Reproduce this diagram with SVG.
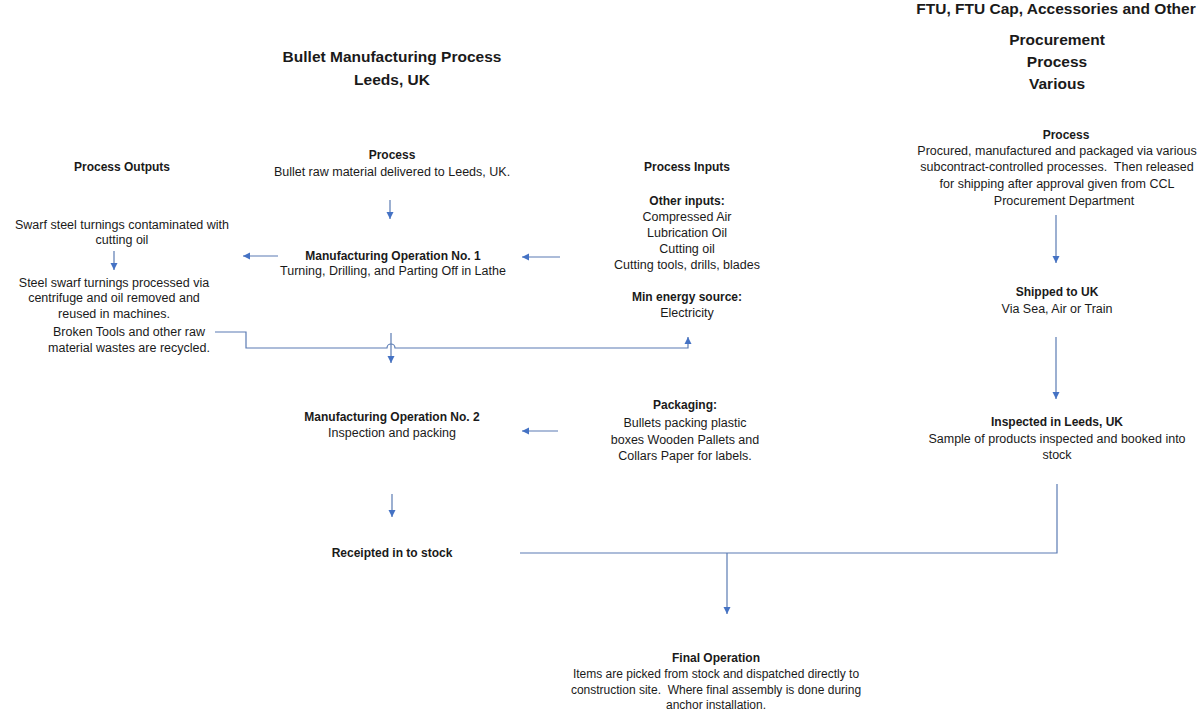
<svg xmlns="http://www.w3.org/2000/svg" width="1201" height="710" viewBox="0 0 1201 710">
<style>
text{font-family:"Liberation Sans",Arial,sans-serif;fill:#1a1a1a;text-anchor:middle;font-size:12.5px}
.b{font-weight:bold;font-size:12px}
.t{font-weight:bold;font-size:15.5px}
.s{font-size:12px}
.c{fill:none;stroke:#5a7bb3;stroke-width:1.2}
</style>
<defs>
<marker id="ah" markerWidth="8" markerHeight="8" refX="7" refY="4" orient="auto" markerUnits="userSpaceOnUse">
<path d="M0,0.5 L7,4 L0,7.5 Z" fill="#4472c4"/>
</marker>
</defs>
<rect width="1201" height="710" fill="#fff"/>
<g id="title-left">
<text class="t" x="392" y="62">Bullet Manufacturing Process</text>
<text class="t" x="392" y="85">Leeds, UK</text>
</g>
<g id="title-right">
<text class="t" x="1056" y="14">FTU, FTU Cap, Accessories and Other</text>
<text class="t" x="1057" y="45">Procurement</text>
<text class="t" x="1057" y="67">Process</text>
<text class="t" x="1057" y="89">Various</text>
</g>
<g id="outputs-head"><text class="b" x="122" y="171">Process Outputs</text></g>
<g id="swarf">
<text x="122" y="229">Swarf steel turnings contaminated with</text>
<text x="122" y="244">cutting oil</text>
</g>
<g id="swarf-processed">
<text x="114" y="287">Steel swarf turnings processed via</text>
<text x="114" y="302">centrifuge and oil removed and</text>
<text x="114" y="318">reused in machines.</text>
</g>
<g id="broken-tools">
<text x="129" y="336">Broken Tools and other raw</text>
<text x="129" y="352">material wastes are recycled.</text>
</g>
<g id="process-start">
<text class="b" x="392" y="159">Process</text>
<text x="392" y="176">Bullet raw material delivered to Leeds, UK.</text>
</g>
<g id="op1">
<text class="b" x="393" y="260">Manufacturing Operation No. 1</text>
<text x="393" y="275">Turning, Drilling, and Parting Off in Lathe</text>
</g>
<g id="inputs-head"><text class="b" x="687" y="171">Process Inputs</text></g>
<g id="other-inputs">
<text class="b" x="687" y="205">Other inputs:</text>
<text x="687" y="221">Compressed Air</text>
<text x="687" y="237">Lubrication Oil</text>
<text x="687" y="253">Cutting oil</text>
<text x="687" y="269">Cutting tools, drills, blades</text>
</g>
<g id="energy">
<text class="b" x="687" y="301">Min energy source:</text>
<text x="687" y="317">Electricity</text>
</g>
<g id="op2">
<text class="b" x="392" y="421">Manufacturing Operation No. 2</text>
<text x="392" y="437">Inspection and packing</text>
</g>
<g id="packaging">
<text class="b" x="685" y="409">Packaging:</text>
<text x="685" y="427">Bullets packing plastic</text>
<text x="685" y="444">boxes Wooden Pallets and</text>
<text x="685" y="460">Collars Paper for labels.</text>
</g>
<g id="stock"><text class="b" x="392" y="557">Receipted in to stock</text></g>
<g id="proc-right">
<text class="b" x="1066" y="139">Process</text>
<text x="1057" y="155">Procured, manufactured and packaged via various</text>
<text x="1057" y="171">subcontract-controlled processes.&#160; Then released</text>
<text x="1057" y="188">for shipping after approval given from CCL</text>
<text x="1064" y="205">Procurement Department</text>
</g>
<g id="shipped">
<text class="b" x="1057" y="296">Shipped to UK</text>
<text x="1057" y="313">Via Sea, Air or Train</text>
</g>
<g id="inspected">
<text class="b" x="1057" y="426">Inspected in Leeds, UK</text>
<text x="1057" y="443">Sample of products inspected and booked into</text>
<text x="1057" y="459">stock</text>
</g>
<g id="final">
<text class="b" x="716" y="662">Final Operation</text>
<text class="s" x="716" y="678">Items are picked from stock and dispatched directly to</text>
<text class="s" x="716" y="694">construction site.&#160; Where final assembly is done during</text>
<text class="s" x="716" y="709">anchor installation.</text>
</g>
<g id="connectors">
<path class="c" d="M390,200 V219" marker-end="url(#ah)"/>
<path class="c" d="M278,256 H243" marker-end="url(#ah)"/>
<path class="c" d="M560,257 H522" marker-end="url(#ah)"/>
<path class="c" d="M114,251 V270" marker-end="url(#ah)"/>
<path class="c" d="M215,332 H246 V348 H387 A4,4 0 0 1 395,348 H688 V337" marker-end="url(#ah)"/>
<path class="c" d="M391,333 V363" marker-end="url(#ah)"/>
<path class="c" d="M558,431 H522" marker-end="url(#ah)"/>
<path class="c" d="M392,494 V517" marker-end="url(#ah)"/>
<path class="c" d="M520,553 H1057 V484"/>
<path class="c" d="M727,553 V614" marker-end="url(#ah)"/>
<path class="c" d="M1056,215 V263" marker-end="url(#ah)"/>
<path class="c" d="M1056,337 V399" marker-end="url(#ah)"/>
</g>
</svg>
